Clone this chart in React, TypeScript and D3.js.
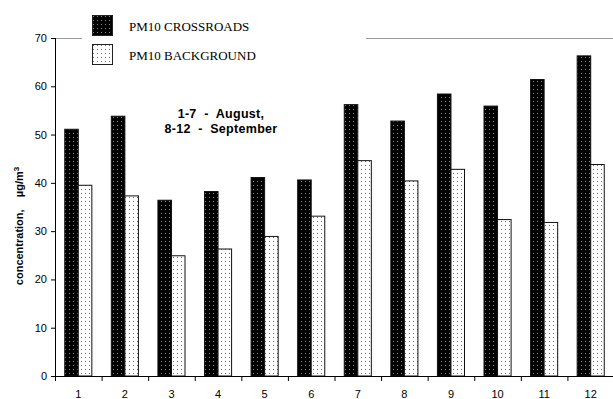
import React from "react";
import * as d3 from "d3";

// Daily PM10 concentrations, µg/m³
const categories = ["1", "2", "3", "4", "5", "6", "7", "8", "9", "10", "11", "12"];
const crossroads = [51.1, 53.8, 36.4, 38.2, 41.1, 40.6, 56.2, 52.8, 58.4, 55.9, 61.4, 66.3];
const background = [39.5, 37.3, 24.9, 26.3, 28.9, 33.1, 44.6, 40.4, 42.8, 32.4, 31.8, 43.8];
const seriesNames = ["PM10 CROSSROADS", "PM10 BACKGROUND"];
const yTicks = [0, 10, 20, 30, 40, 50, 60, 70];

const W = 613;
const H = 399;
const left = 55;
const right = 614;
const top = 38;
const bottom = 376;

export default function App() {
  const x = d3.scaleBand<string>().domain(categories).range([left, right]).paddingInner(0).paddingOuter(0);
  const xSub = d3
    .scaleBand<string>()
    .domain(seriesNames)
    .range([0, x.bandwidth()])
    .paddingInner(0)
    .paddingOuter(0.72);
  const y = d3.scaleLinear().domain([0, 70]).range([bottom, top]);

  const series = [
    { name: seriesNames[0], values: crossroads, fill: "url(#darkDots)", stroke: "#111" },
    { name: seriesNames[1], values: background, fill: "url(#lightDots)", stroke: "#111" },
  ];

  const boundaries = categories.map((c) => x(c) as number).concat([right]);

  return (
    <svg
      width={W}
      height={H}
      style={{ position: "absolute", left: 0, top: 0, background: "#fff" }}
      fontFamily="Liberation Sans, Arial, sans-serif"
    >
      <defs>
        <pattern id="darkDots" width="4" height="4" patternUnits="userSpaceOnUse">
          <rect width="4" height="4" fill="#000" />
          <rect x="1" y="1" width="1" height="1" fill="#8a8a8a" />
        </pattern>
        <pattern id="lightDots" width="4" height="4" patternUnits="userSpaceOnUse">
          <rect width="4" height="4" fill="#fff" />
          <rect x="1" y="1" width="1" height="1" fill="#6a6a6a" />
        </pattern>
      </defs>

      {/* top frame line, broken by the legend */}
      <line x1={left} x2={82} y1={top + 0.5} y2={top + 0.5} stroke="#9a9a9a" strokeWidth={1} />
      <line x1={366} x2={W} y1={top + 0.5} y2={top + 0.5} stroke="#9a9a9a" strokeWidth={1} />

      {/* bars */}
      {series.map((s) =>
        s.values.map((v, i) => {
          const bx = (x(categories[i]) as number) + (xSub(s.name) as number);
          return (
            <rect
              key={s.name + i}
              x={bx}
              y={y(v)}
              width={xSub.bandwidth()}
              height={bottom - y(v)}
              fill={s.fill}
              stroke={s.stroke}
              strokeWidth={1}
            />
          );
        })
      )}

      {/* y axis */}
      <line x1={left + 0.5} x2={left + 0.5} y1={top} y2={bottom} stroke="#000" />
      {yTicks.map((t) => (
        <g key={t}>
          <line x1={left - 4} x2={left} y1={y(t) + 0.5} y2={y(t) + 0.5} stroke="#000" />
          <text x={left - 8} y={y(t)} dy="0.36em" textAnchor="end" fontSize={11}>
            {t}
          </text>
        </g>
      ))}

      {/* x axis */}
      <line x1={left} x2={right} y1={bottom + 0.5} y2={bottom + 0.5} stroke="#000" />
      {boundaries.map((b, i) => (
        <line key={i} x1={b + 0.5} x2={b + 0.5} y1={bottom} y2={bottom + 5} stroke="#000" />
      ))}
      {categories.map((c) => (
        <text
          key={c}
          x={(x(c) as number) + x.bandwidth() / 2}
          y={394}
          dy="0.36em"
          textAnchor="middle"
          fontSize={11}
        >
          {c}
        </text>
      ))}

      {/* y axis title */}
      <text
        transform="translate(19,226) rotate(-90)"
        textAnchor="middle"
        fontSize={11}
        fontWeight="bold"
        dy="0.36em"
        style={{ whiteSpace: "pre" }}
      >
        {"concentration,    µg/m"}
        <tspan dy="-0.45em" fontSize={8}>
          3
        </tspan>
      </text>

      {/* period note */}
      <text
        x={221}
        y={113}
        textAnchor="middle"
        fontSize={12.5}
        fontWeight="bold"
        dy="0.36em"
        letterSpacing={0.3}
        style={{ whiteSpace: "pre" }}
      >
        {"1-7  -  August,"}
      </text>
      <text
        x={221}
        y={128}
        textAnchor="middle"
        fontSize={12.5}
        fontWeight="bold"
        dy="0.36em"
        letterSpacing={0.3}
        style={{ whiteSpace: "pre" }}
      >
        {"8-12  -  September"}
      </text>

      {/* legend */}
      {series.map((s, i) => (
        <g key={s.name} transform={`translate(92,${15 + i * 29})`}>
          <rect x={0.5} y={0.5} width={20} height={20} fill={s.fill} stroke="#222" />
          <text x={37} y={11} dy="0.36em" fontSize={13} fontFamily="Liberation Serif, Times New Roman, serif">
            {s.name}
          </text>
        </g>
      ))}
    </svg>
  );
}
